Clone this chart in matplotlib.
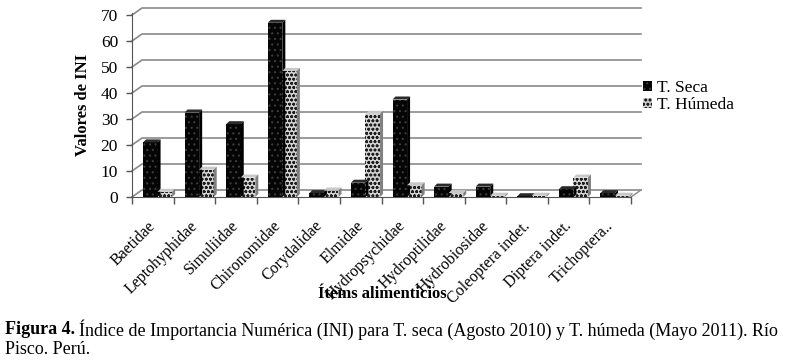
import matplotlib
matplotlib.use("Agg")
import matplotlib.pyplot as plt
import matplotlib.patches as mpatches
import matplotlib.transforms as mtransforms
from matplotlib.lines import Line2D
import numpy as np

categories = ["Baetidae", "Leptohyphidae", "Simuliidae", "Chironomidae", "Corydalidae",
              "Elmidae", "Hydropsychidae", "Hydroptilidae", "Hydrobiosidae",
              "Coleoptera indet.", "Diptera indet.", "Trichoptera.."]
seca = [21, 32.5, 28, 67, 1.5, 5.5, 37.5, 4, 4, 0.3, 3, 1.5]
humeda = [2, 10.5, 7.5, 48.5, 2.5, 32, 4.5, 1.5, 0.5, 0.5, 7.5, 0.5]
series_labels = ["T. Seca", "T. Húmeda"]
yticks = [0, 10, 20, 30, 40, 50, 60, 70]

plt.rcParams['font.family'] = ['Liberation Serif', 'DejaVu Serif']
plt.rcParams['hatch.linewidth'] = 0.8

W, H = 788, 363
fig = plt.figure(figsize=(W / 100, H / 100), dpi=100)
ax = fig.add_axes([132 / W, 1 - 197 / H, (631 - 132) / W, (197 - 15) / H])
ax.set_xlim(-0.5, len(categories) - 0.5)
ax.set_ylim(0, 70)

x = np.arange(len(categories))
bw = 0.35
seca_style = dict(color='#050505', edgecolor='#3c3c3c', hatch='...', linewidth=0)
hum_style = dict(color='#d4d4d4', edgecolor='#1e1e1e', hatch='oooo', linewidth=0)
b1 = ax.bar(x - 0.06, seca, bw, zorder=3, **seca_style)
b2 = ax.bar(x + 0.29, humeda, bw, zorder=3, **hum_style)

# axis styling
for s in ['top', 'right']:
    ax.spines[s].set_visible(False)
ax.spines['left'].set_color('#555555')
ax.spines['bottom'].set_color('#555555')
ax.spines['left'].set_bounds(0, 70.8)
ax.set_yticks(yticks)
ax.set_yticklabels([str(v) for v in yticks], fontsize=12.5)
ax.tick_params(axis='y', length=4, width=1, color='#555555', pad=6)
ax.set_xticks(x)
ax.set_xticklabels(categories, rotation=45, ha='right', va='top', rotation_mode='anchor', fontsize=11.5)
ax.tick_params(axis='x', length=0, pad=15)
shift = mtransforms.ScaledTranslation(-5 / 100, 0, fig.dpi_scale_trans)
for lbl in ax.get_xticklabels():
    lbl.set_transform(lbl.get_transform() + shift)
ax.set_xticks(np.arange(-0.5, len(categories) + 0.5, 1), minor=True)
ax.tick_params(axis='x', which='minor', length=5, width=1, color='#555555')

# 3D-style back wall gridlines and floor (offset in pixels)
fig.canvas.draw()
dx, dy = 10, 7
T = ax.transData
ident = mtransforms.IdentityTransform()
x0, x1 = -0.5, len(categories) - 0.5
for v in yticks:
    p0 = T.transform((x0, v))
    p1 = T.transform((x1, v))
    xs = [p0[0], p0[0] + dx, p1[0] + dx]
    ys = [p0[1], p0[1] + dy, p1[1] + dy]
    ax.add_line(Line2D(xs, ys, transform=ident, color='#8a8a8a', lw=1.2, zorder=1, clip_on=False))
p1 = T.transform((x1, 0))
ax.add_line(Line2D([p1[0], p1[0] + dx], [p1[1], p1[1] + dy], transform=ident,
                   color='#8a8a8a', lw=1.0, zorder=1, clip_on=False))

# bar top/side faces
d = 3
for bars, top_c, side_c in [(b1, '#2a2a2a', '#000000'), (b2, '#c8c8c8', '#808080')]:
    for r in bars:
        xl, yb = r.get_x(), r.get_y()
        xr, yt = xl + r.get_width(), yb + r.get_height()
        a = T.transform((xl, yt)); b = T.transform((xr, yt)); c = T.transform((xr, yb))
        top = mpatches.Polygon([a, b, (b[0] + d, b[1] + d), (a[0] + d, a[1] + d)], closed=True,
                               transform=ident, facecolor=top_c, edgecolor='none', zorder=4, clip_on=False)
        side = mpatches.Polygon([b, c, (c[0] + d, c[1] + d), (b[0] + d, b[1] + d)], closed=True,
                                transform=ident, facecolor=side_c, edgecolor='none', zorder=4, clip_on=False)
        ax.add_patch(top); ax.add_patch(side)

# labels
fig.text(83 / W, 1 - 105 / H, "Valores de INI", rotation=90, ha='center', va='center',
         fontsize=12, fontweight='bold')
fig.text(382 / W, 1 - 294 / H, "Ítems alimenticios", ha='center', va='center',
         fontsize=12, fontweight='bold')

# legend
handles = [mpatches.Patch(**{k: v for k, v in seca_style.items() if k != 'color'}, facecolor=seca_style['color']),
           mpatches.Patch(**{k: v for k, v in hum_style.items() if k != 'color'}, facecolor=hum_style['color'])]
fig.legend(handles, series_labels, loc='upper left', bbox_to_anchor=(643 / W, 1 - 80 / H),
           frameon=False, fontsize=12.5, handlelength=0.5, handleheight=0.5,
           handletextpad=0.3, labelspacing=0.05, borderaxespad=0, borderpad=0)

# caption
r = fig.canvas.get_renderer()
t1 = fig.text(5 / W, 1 - 330 / H, "Figura 4.", fontsize=13, fontweight='bold', va='center', ha='left')
bb = t1.get_window_extent(renderer=r)
fig.text((bb.x1 + 4) / W, 1 - 330 / H,
         "Índice de Importancia Numérica (INI) para T. seca (Agosto 2010) y T. húmeda (Mayo 2011). Río",
         fontsize=13, va='center', ha='left')
fig.text(5 / W, 1 - 350 / H, "Pisco. Perú.", fontsize=13, va='center', ha='left')

fig.savefig("out.png", dpi=100)
